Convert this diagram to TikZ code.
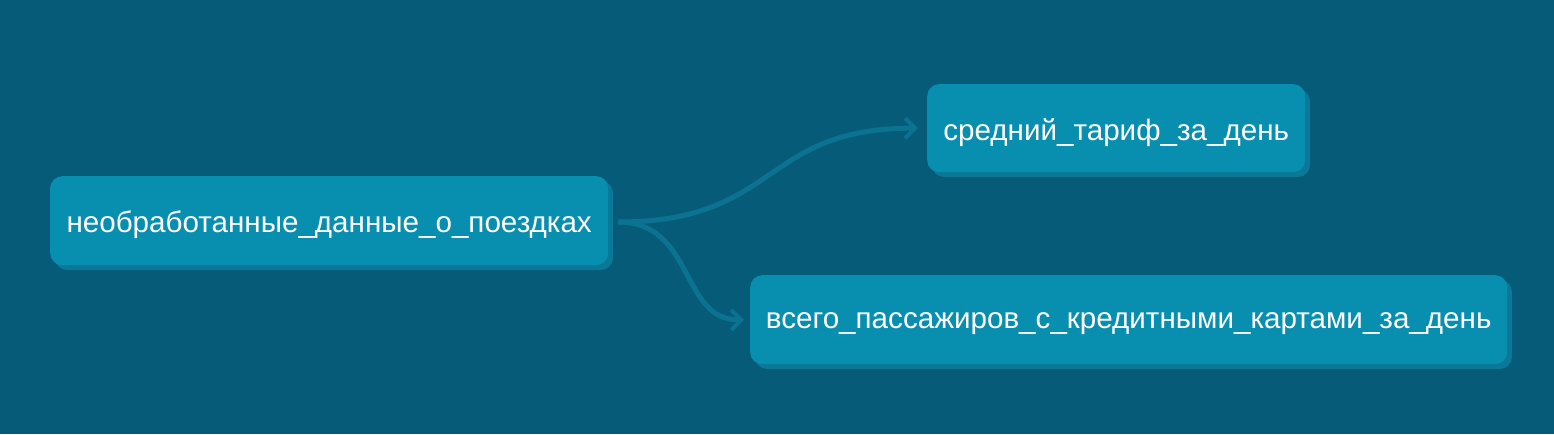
\documentclass[tikz,border=0pt]{standalone}
\usepackage{fontspec}
\setmainfont{Liberation Sans}
\usetikzlibrary{arrows.meta}
\definecolor{bg}{HTML}{065B79}
\definecolor{boxfill}{HTML}{088FAF}
\definecolor{boxshadow}{HTML}{0A7896}
\definecolor{edgecol}{HTML}{0B7391}
\newcommand{\lowtext}[1]{\raisebox{-4pt}[\height][\depth]{#1}}
\begin{document}
\begin{tikzpicture}[x=1pt,y=-1pt,
  box/.style={draw=none,fill=boxfill,rounded corners=12pt,text=white,font=\fontsize{29.6}{34}\selectfont,
    minimum height=89pt,inner xsep=0pt,anchor=north west},
  shadowbox/.style={fill=boxshadow,rounded corners=12pt},
  conn/.style={draw=edgecol,line width=5pt,-{Straight Barb[length=10pt,width=20pt,line width=4pt]}}]
\fill[bg] (0,0) rectangle (1554,434);
\useasboundingbox (0,0) rectangle (1554,434);
% shadows
\fill[shadowbox] (55,181) rectangle (613,270);
\fill[shadowbox] (932,89) rectangle (1310,177);
\fill[shadowbox] (755,280) rectangle (1512,369);
\node[box,minimum width=558pt] (raw) at (50,176) {\lowtext{необработанные\_данные\_о\_поездках}};
\node[box,minimum width=378pt,minimum height=88pt] (avg) at (927,84) {\lowtext{средний\_тариф\_за\_день}};
\node[box,minimum width=757pt] (tot) at (750,275) {\lowtext{всего\_пассажиров\_с\_кредитными\_картами\_за\_день}};
\coordinate (s) at (618,222);
\draw[conn] (s) .. controls (780,222) and (760,128) .. ([xshift=-9pt]avg.west);
\draw[conn] (s) .. controls (695,222) and (680,321) .. ([xshift=-6pt]tot.west);
\end{tikzpicture}
\end{document}
